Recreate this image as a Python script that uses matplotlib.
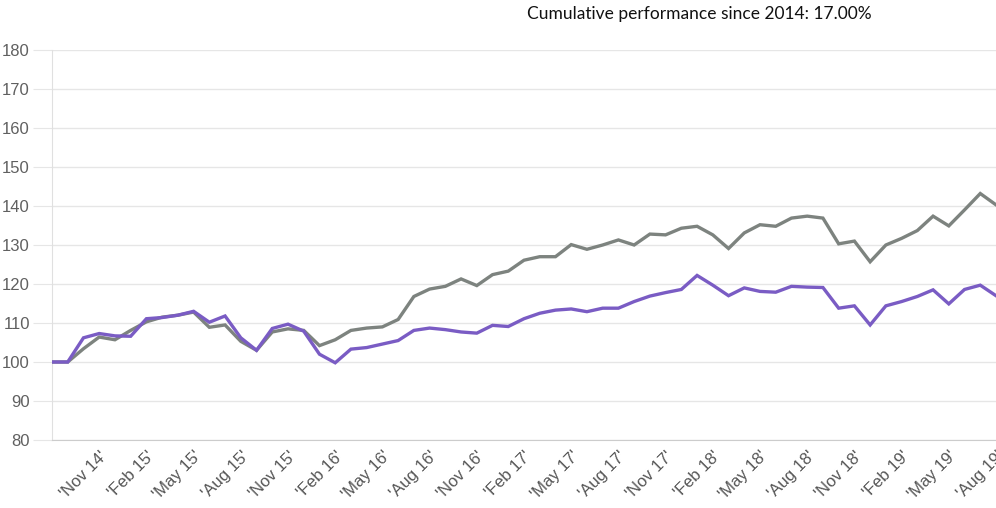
import matplotlib.pyplot as plt
import pandas as pd

# monthly values, Aug 2014 .. Aug 2019
months = pd.date_range("2014-08-01", "2019-08-01", freq="MS")

portfolio = [
    100.0, 100.0, 106.2, 107.3, 106.7, 106.6, 111.1, 111.4, 112.0, 113.0,
    110.2, 111.8, 106.2, 103.0, 108.6, 109.7, 107.9, 102.0, 99.8, 103.3,
    103.7, 104.6, 105.5, 108.1, 108.7, 108.3, 107.7, 107.4, 109.4, 109.1,
    111.1, 112.5, 113.3, 113.6, 112.9, 113.8, 113.8, 115.5, 116.9, 117.8,
    118.6, 122.2, 119.7, 117.0, 119.0, 118.1, 117.9, 119.4, 119.2, 119.1,
    113.8, 114.4, 109.5, 114.4, 115.5, 116.8, 118.5, 114.9, 118.6, 119.7,
    117.0,
]

benchmark = [
    100.0, 100.0, 103.4, 106.4, 105.7, 108.1, 110.3, 111.5, 112.0, 112.8,
    108.9, 109.5, 105.3, 103.0, 107.7, 108.5, 108.1, 104.2, 105.7, 108.1,
    108.7, 109.0, 110.9, 116.8, 118.7, 119.4, 121.3, 119.6, 122.4, 123.3,
    126.1, 127.0, 127.0, 130.1, 128.9, 130.0, 131.3, 130.0, 132.8, 132.6,
    134.3, 134.8, 132.6, 129.1, 133.1, 135.2, 134.8, 136.9, 137.4, 136.9,
    130.3, 131.0, 125.7, 130.0, 131.7, 133.7, 137.4, 134.9, 139.0, 143.2,
    140.3,
]

y_ticks = list(range(80, 181, 10))
title = "Cumulative performance since 2014: 17.00%"


def main():
    fig = plt.figure(figsize=(9.96, 5.08), dpi=100)
    ax = fig.add_axes([52 / 996, 1 - 440 / 508, 944 / 996, 390 / 508])

    x = list(range(len(months)))
    ax.plot(x, benchmark, color="#7d837f", lw=2.4, solid_joinstyle="miter", zorder=3)
    ax.plot(x, portfolio, color="#7a5cc4", lw=2.4, solid_joinstyle="miter", zorder=4)

    ax.set_xlim(0, len(months) - 1)
    ax.set_ylim(80, 180)
    ax.set_yticks(y_ticks)
    ax.set_yticklabels([str(v) for v in y_ticks], fontsize=12, color="#606060",
                       family="Liberation Sans")
    ax.grid(axis="y", color="#e6e6e6", lw=1)
    ax.set_axisbelow(True)

    tick_idx = x[3::3]
    ax.set_xticks(tick_idx)
    ax.set_xticklabels(["'" + months[i].strftime("%b %y") + "'" for i in tick_idx],
                       rotation=45, ha="right", va="top", rotation_mode="anchor",
                       fontsize=12, color="#555555", family="Liberation Sans")

    for s in ("top", "right"):
        ax.spines[s].set_visible(False)
    ax.spines["left"].set_color("#e0e0e0")
    ax.spines["bottom"].set_color("#cccccc")
    ax.tick_params(axis="y", length=14, color="#e6e6e6", pad=2)
    ax.tick_params(axis="x", length=0, pad=6)

    fig.text(699 / 996, 1 - 14 / 508, title, ha="center", va="center",
             fontsize=12.5, family="Lato", color="#111111")

    fig.savefig("out.png", dpi=100)


if __name__ == "__main__":
    main()
